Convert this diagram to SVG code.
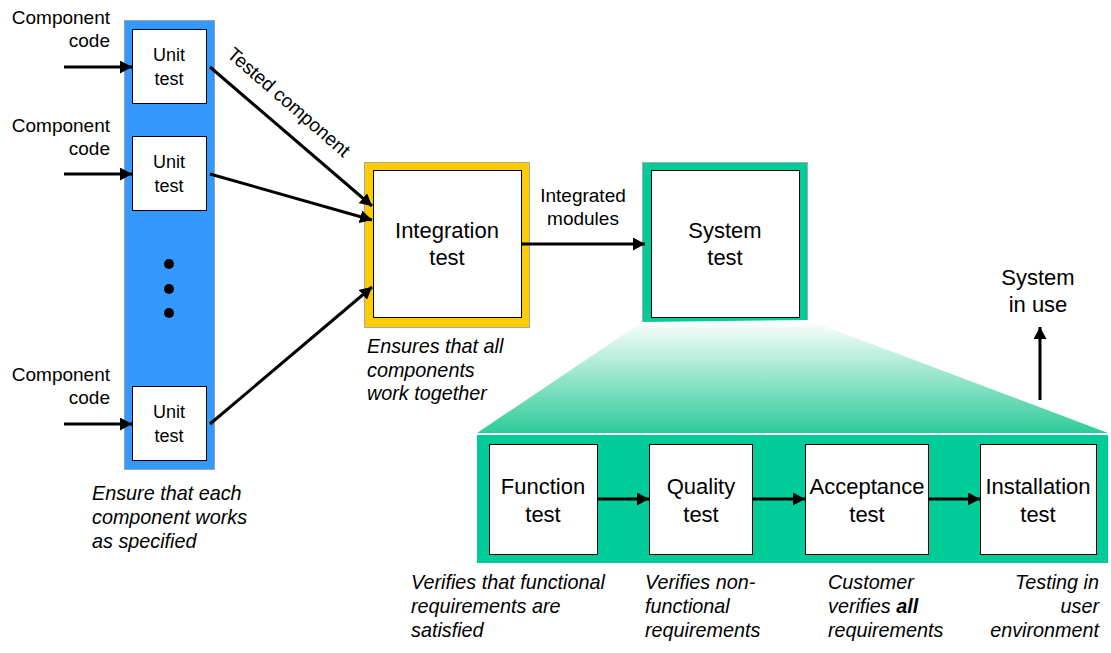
<svg xmlns="http://www.w3.org/2000/svg" width="1111" height="653" viewBox="0 0 1111 653">
<style>
text{font-family:"Liberation Sans",Arial,sans-serif;fill:#000}
.lbl{font-size:19px}
.unit{font-size:18px;text-anchor:middle}
.big{font-size:22px;text-anchor:middle}
.note{font-size:19.8px;font-style:italic}
.box{fill:#fff;stroke:#000;stroke-width:1}
.conn{stroke:#000;stroke-width:3;fill:none;marker-end:url(#ah)}
</style>
<defs>
<marker id="ah" markerUnits="userSpaceOnUse" markerWidth="13" markerHeight="13" refX="12" refY="6.5" orient="auto">
<path d="M0,0 L12,6.5 L0,13 z" fill="#000"/>
</marker>
<linearGradient id="fan" x1="0" y1="0" x2="0" y2="1">
<stop offset="0" stop-color="#ffffff"/>
<stop offset="1" stop-color="#2ecb98"/>
</linearGradient>
</defs>
<rect width="1111" height="653" fill="#fff"/>

<g id="unit-column">
<rect x="124.5" y="20.5" width="90" height="449" fill="#3399ff" stroke="#a0a0a0"/>
<circle cx="169" cy="264" r="5" fill="#000"/>
<circle cx="169" cy="289" r="5" fill="#000"/>
<circle cx="169" cy="313" r="5" fill="#000"/>
</g>
<g id="unit1">
<rect class="box" x="132.5" y="29.5" width="74" height="74"/>
<text class="unit" x="169" y="61">Unit</text>
<text class="unit" x="169" y="85">test</text>
</g>
<g id="unit2">
<rect class="box" x="132.5" y="136.5" width="74" height="74"/>
<text class="unit" x="169" y="168">Unit</text>
<text class="unit" x="169" y="192">test</text>
</g>
<g id="unit3">
<rect class="box" x="132.5" y="386.5" width="74" height="74"/>
<text class="unit" x="169" y="418">Unit</text>
<text class="unit" x="169" y="442">test</text>
</g>
<g id="code-labels">
<text class="lbl" x="110" y="24" text-anchor="end">Component</text>
<text class="lbl" x="110" y="47" text-anchor="end">code</text>
<text class="lbl" x="110" y="132" text-anchor="end">Component</text>
<text class="lbl" x="110" y="155" text-anchor="end">code</text>
<text class="lbl" x="110" y="381" text-anchor="end">Component</text>
<text class="lbl" x="110" y="404" text-anchor="end">code</text>
</g>
<g id="unit-note">
<text class="note" x="92" y="500">Ensure that each</text>
<text class="note" x="92" y="524">component works</text>
<text class="note" x="92" y="548">as specified</text>
</g>

<g id="integration">
<rect x="364.5" y="162.5" width="165" height="165" fill="#ffcc00" stroke="#a8a8a8"/>
<rect class="box" x="373.5" y="170.5" width="148" height="147"/>
<text class="big" x="447" y="238">Integration</text>
<text class="big" x="447" y="265">test</text>
<text class="note" x="367" y="353">Ensures that all</text>
<text class="note" x="367" y="377">components</text>
<text class="note" x="367" y="400">work together</text>
</g>

<g id="system">
<rect x="642" y="162" width="166" height="162" fill="#00cc99"/>
<path d="M642.5,324 V162.5 H807.5 V322" fill="none" stroke="#a8a8a8"/>
<rect class="box" x="651.5" y="170.5" width="148" height="147"/>
<text class="big" x="725" y="238">System</text>
<text class="big" x="725" y="265">test</text>
</g>

<g id="expansion">
<polygon points="642,322 808,320 1108,433 477,433" fill="url(#fan)"/>
<rect x="477" y="435" width="631" height="128" fill="#00cc99"/>
</g>

<g id="function">
<rect class="box" x="489.5" y="444.5" width="108" height="110"/>
<text class="big" x="543" y="494">Function</text>
<text class="big" x="543" y="522">test</text>
</g>
<g id="quality">
<rect class="box" x="649.5" y="444.5" width="103" height="110"/>
<text class="big" x="701" y="494">Quality</text>
<text class="big" x="701" y="522">test</text>
</g>
<g id="acceptance">
<rect class="box" x="805.5" y="444.5" width="123" height="110"/>
<text class="big" x="867" y="494" font-size="22.8">Acceptance</text>
<text class="big" x="867" y="522">test</text>
</g>
<g id="installation">
<rect class="box" x="980.5" y="444.5" width="116" height="110"/>
<text class="big" x="1038" y="494">Installation</text>
<text class="big" x="1038" y="522">test</text>
</g>

<g id="notes">
<text class="note" x="411" y="589">Verifies that functional</text>
<text class="note" x="411" y="613">requirements are</text>
<text class="note" x="411" y="637">satisfied</text>
<text class="note" x="645" y="589">Verifies non-</text>
<text class="note" x="645" y="613">functional</text>
<text class="note" x="645" y="637">requirements</text>
<text class="note" x="828" y="589">Customer</text>
<text class="note" x="828" y="613">verifies <tspan font-weight="bold">all</tspan></text>
<text class="note" x="828" y="637">requirements</text>
<text class="note" x="1099" y="589" text-anchor="end">Testing in</text>
<text class="note" x="1099" y="613" text-anchor="end">user</text>
<text class="note" x="1099" y="637" text-anchor="end">environment</text>
</g>

<g id="system-in-use">
<text class="big" x="1038" y="285">System</text>
<text class="big" x="1038" y="312">in use</text>
</g>

<g id="connectors">
<line class="conn" x1="64" y1="67" x2="132" y2="67"/>
<line class="conn" x1="64" y1="174" x2="132" y2="174"/>
<line class="conn" x1="64" y1="424" x2="132" y2="424"/>
<line class="conn" x1="210" y1="67" x2="372" y2="206"/>
<line class="conn" x1="210" y1="174" x2="372" y2="220"/>
<line class="conn" x1="210" y1="424" x2="372" y2="287"/>
<line class="conn" x1="522" y1="244" x2="645" y2="244"/>
<line class="conn" x1="598" y1="499" x2="649" y2="499"/>
<line class="conn" x1="753" y1="499" x2="805" y2="499"/>
<line class="conn" x1="929" y1="499" x2="980" y2="499"/>
<line class="conn" x1="1040" y1="400" x2="1040" y2="327"/>
<text class="lbl" x="226" y="56" transform="rotate(41 226 56)">Tested component</text>
<text class="lbl" x="583" y="202" text-anchor="middle">Integrated</text>
<text class="lbl" x="583" y="225" text-anchor="middle">modules</text>
</g>
</svg>
